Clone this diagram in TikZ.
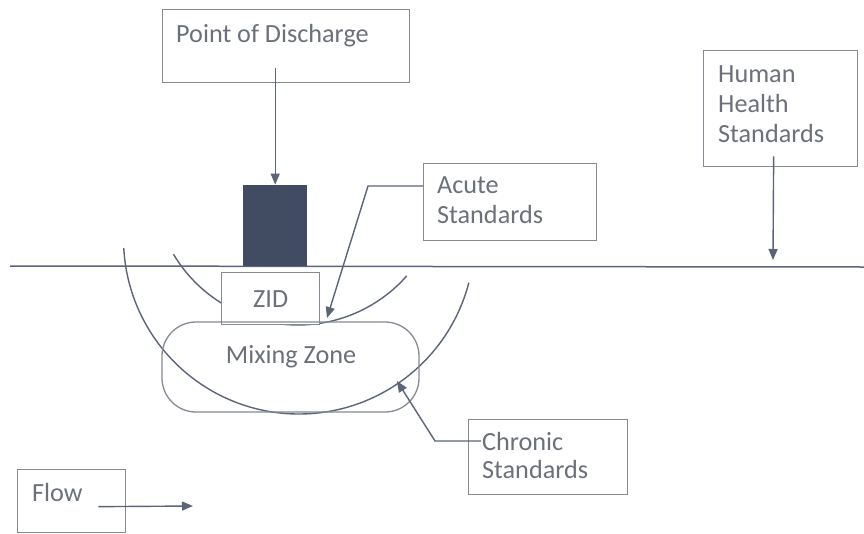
\documentclass[tikz,border=0pt]{standalone}
\usepackage{fontspec}
\setmainfont{Carlito}
\usetikzlibrary{arrows.meta}
\definecolor{txtc}{HTML}{6B707B}
\definecolor{linec}{HTML}{5C6478}
\definecolor{boxc}{HTML}{858A93}
\definecolor{darkc}{HTML}{414B62}
\tikzset{
  box/.style={draw=boxc, line width=1.3pt, rectangle, inner sep=0pt},
  txt/.style={text=txtc, inner sep=0pt, font=\fontsize{26.2}{30}\selectfont},
  conn/.style={draw=linec, line width=1.4pt},
  arr/.style={conn, -{Triangle[length=11pt,width=9pt]}},
}
\begin{document}
\begin{tikzpicture}[x=1pt,y=1pt]
\useasboundingbox[fill=white] (0,0) rectangle (864,-533);

% arcs (drawn first, ZID covers the inner one)
\draw[conn] (298,-180) ++(210.8:145pt) arc[start angle=210.8, end angle=318.6, radius=145pt];
\draw[conn] (299,-238.5) ++(183.1:175.5pt) arc[start angle=183.1, end angle=345.4, radius=175.5pt];

% surface line
\coordinate (sl) at (10,-266);
\coordinate (sr) at (864,-267);
\draw[conn, line width=1.5pt] (sl) -- (sr);

% outfall
\node[fill=darkc, draw=none, minimum width=64pt, minimum height=81pt, inner sep=0pt, anchor=south west] (outlet) at (243,-266) {};

% Point of discharge
\node[box, anchor=north west, minimum width=247pt, minimum height=73pt] (pod) at (162,-9) {};
\node[txt, anchor=base west] (podt) at (176,-42) {Point of Discharge};
\draw[arr] ([yshift=15pt]outlet.north |- pod.south) -- (outlet.north);

% ZID
\node[box, fill=white, anchor=north west, minimum width=98pt, minimum height=52pt] (zid) at (221,-272) {};
\node[txt] (zidt) at (zid.center) {ZID};

% Mixing zone
\node[box, rounded corners=34pt, minimum width=257pt, minimum height=90pt] (mz) at (290.5,-367) {};
\node[txt, anchor=base] (mzt) at (291,-363) {Mixing Zone};

% Acute standards
\node[box, anchor=north west, minimum width=173pt, minimum height=77pt] (acute) at (423,-163) {};
\node[txt, anchor=base west] (ac1) at (437,-193) {Acute};
\node[txt, anchor=base west] (ac2) at (437,-223) {Standards};
\coordinate (acutetip) at (327,-318);
\draw[arr] ([yshift=-23pt]acute.north west) -- ++(-55pt,0) -- (acutetip);

% Chronic standards
\node[box, anchor=north west, minimum width=159pt, minimum height=75pt] (chronic) at (468,-419) {};
\node[txt, anchor=base west] (ch1) at (482,-450) {Chronic};
\node[txt, anchor=base west] (ch2) at (482,-478) {Standards};
\coordinate (chronictip) at (397,-381);
\draw[arr] ([xshift=-1pt]ch1.west) -- ++(-46pt,0) -- (chronictip);

% Human health standards
\node[box, anchor=north west, minimum width=154pt, minimum height=116pt] (hh) at (703,-50) {};
\node[txt, anchor=base west] (hh1) at (718,-82) {Human};
\node[txt, anchor=base west] (hh2) at (718,-112) {Health};
\node[txt, anchor=base west] (hh3) at (718,-142) {Standards};
\coordinate (hhtip) at (773,-260);
\draw[arr] ([shift={(-7pt,11pt)}]hh.south) -- (hhtip);

% Flow
\node[box, anchor=north west, minimum width=108pt, minimum height=63pt] (flow) at (17,-469) {};
\node[txt, anchor=base west] (flowt) at (32,-501) {Flow};
\coordinate (flowend) at (193,-506);
\draw[arr] ([shift={(-28pt,-5.5pt)}]flow.east) -- (flowend);
\end{tikzpicture}
\end{document}
